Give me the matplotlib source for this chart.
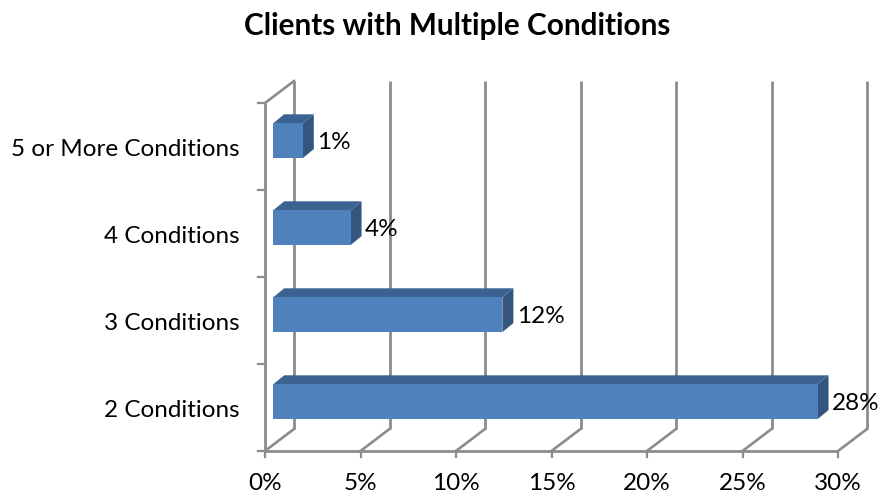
import matplotlib
matplotlib.use("Agg")
import matplotlib.pyplot as plt
from matplotlib.transforms import Affine2D
from matplotlib.patches import Polygon

plt.rcParams['font.family'] = ['Lato', 'DejaVu Sans']

categories = ["2 Conditions", "3 Conditions", "4 Conditions", "5 or More Conditions"]
values = [28.5, 12.0, 4.05, 1.55]
bar_labels = ["28%", "12%", "4%", "1%"]
x_ticks = [0, 5, 10, 15, 20, 25, 30]
title = "Clients with Multiple Conditions"

W, H = 881, 495
fig = plt.figure(figsize=(W/100, H/100), dpi=100)
ax = fig.add_axes([265/W, (H-451)/H, (838-265)/W, (451-103)/H])
ax.set_xlim(0, 30)
ax.set_ylim(0, 4)
ax.axis("off")

GRID = "#8c8c8c"
FRONT, TOP, SIDE = "#4f81bd", "#3b6291", "#335580"
DX, DY = 29, 22          # wall depth in pixels
FS = 17.5

back = ax.transData + Affine2D().translate(DX, DY)

def line(xs, ys, transform=ax.transData, lw=2.0):
    ax.plot(xs, ys, color=GRID, lw=lw, transform=transform, clip_on=False,
            solid_capstyle="butt", zorder=1)

def diag(x, y):
    a = ax.transData.transform((x, y))
    fig.add_artist(plt.Line2D([a[0]/W, (a[0]+DX)/W], [a[1]/H, (a[1]+DY)/H],
                              color=GRID, lw=1.9, zorder=1))

# walls, floor and axes
for t in x_ticks:
    line([t, t], [0, 4], back)
    diag(t, 0)
    a = ax.transData.transform((t, 0))
    fig.add_artist(plt.Line2D([a[0]/W, a[0]/W], [a[1]/H, (a[1]-6)/H], color=GRID, lw=1.6))
    ax.text(t, 0, f"{t}%", transform=ax.transData + Affine2D().translate(0, -33),
            ha="center", va="center", fontsize=FS, color="black")
diag(0, 4)
line([0, 0], [0, 4])
line([0, 30], [0, 0])
for i in range(5):
    a = ax.transData.transform((0, i))
    fig.add_artist(plt.Line2D([(a[0]-7)/W, a[0]/W], [a[1]/H, a[1]/H], color=GRID, lw=1.6))

# bars
BAR_X, BAR_Y, D_X, D_Y = 8.2, 5.8, 11, 9
bar_h = 0.40
shift = Affine2D().translate(BAR_X, BAR_Y)
off = ax.transData + shift
off_d = off + Affine2D().translate(D_X, D_Y)
for i, (v, lab, cat) in enumerate(zip(values, bar_labels, categories)):
    y0, y1 = i + 0.5 - bar_h/2, i + 0.5 + bar_h/2
    p0 = off.transform([(0, y0), (v, y0), (v, y1), (0, y1)])
    p1 = off_d.transform([(0, y0), (v, y0), (v, y1), (0, y1)])
    px = lambda pts: [(x/W, y/H) for x, y in pts]
    fig.add_artist(Polygon(px([p0[3], p0[2], p1[2], p1[3]]), closed=True, fc=TOP, ec="none", zorder=3))
    fig.add_artist(Polygon(px([p0[1], p1[1], p1[2], p0[2]]), closed=True, fc=SIDE, ec="none", zorder=3))
    fig.add_artist(Polygon(px([p0[0], p0[1], p0[2], p0[3]]), closed=True, fc=FRONT, ec="none", zorder=3))
    ax.text(v, i + 0.5, lab, transform=off + Affine2D().translate(14.5, -1.5),
            ha="left", va="center", fontsize=FS, color="black", zorder=5)
    ax.text(0, i + 0.5, cat, transform=ax.transData + Affine2D().translate(-25, -3),
            ha="right", va="center", fontsize=FS, color="black")

fig.text(457.5/W, 1 - 25.5/H, title, ha="center", va="center", fontsize=21.4, fontweight="bold", color="black")
fig.savefig("out.png", dpi=100)
